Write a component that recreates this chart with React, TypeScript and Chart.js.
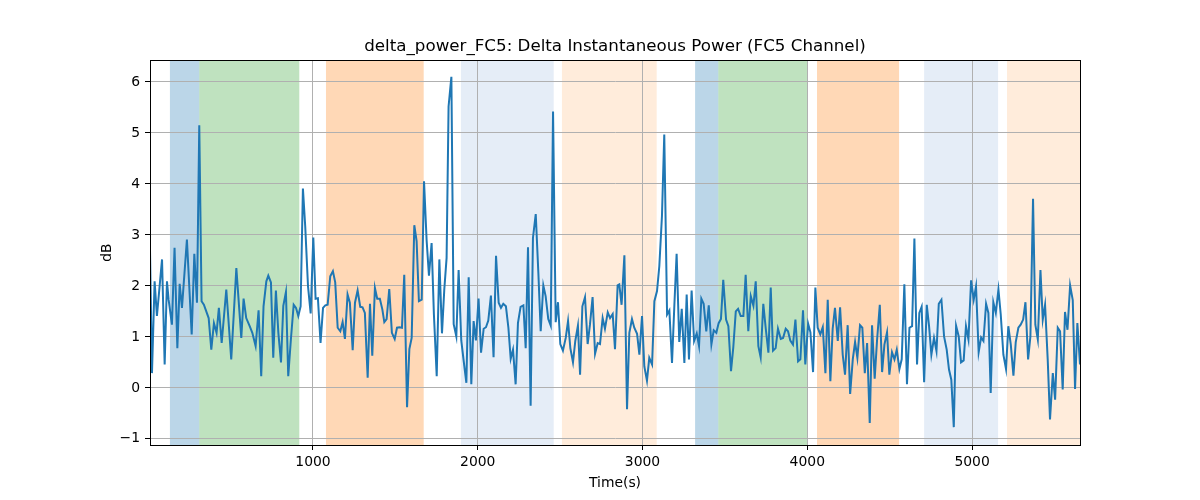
import React, { useEffect, useRef } from "react";
import { Chart, registerables } from "chart.js";

Chart.register(...registerables);

// time stamps (s) of the delta power samples
const times = [
  11, 23, 39, 53, 84, 100, 114, 124, 144, 160, 177, 191, 205, 235, 264, 280, 296, 310, 324, 338,
  367, 383, 399, 415, 429, 446, 474, 504, 535, 565, 579, 595, 616, 632, 652, 670, 686, 700, 717, 729,
  745, 759, 775, 790, 806, 820, 836, 850, 866, 883, 897, 911, 925, 939, 953, 970, 986, 1002, 1016, 1030,
  1046, 1061, 1075, 1089, 1105, 1121, 1135, 1150, 1166, 1180, 1194, 1210, 1224, 1241, 1255, 1271, 1287, 1301, 1315, 1332,
  1346, 1360, 1376, 1390, 1406, 1421, 1433, 1447, 1463, 1479, 1496, 1510, 1526, 1540, 1554, 1571, 1585, 1599, 1615, 1629,
  1643, 1660, 1674, 1690, 1704, 1720, 1734, 1751, 1767, 1783, 1797, 1811, 1823, 1840, 1854, 1870, 1884, 1900, 1915, 1931,
  1945, 1961, 1975, 1989, 2005, 2020, 2036, 2050, 2064, 2080, 2096, 2111, 2127, 2141, 2155, 2171, 2186, 2200, 2214, 2230,
  2244, 2260, 2277, 2291, 2305, 2321, 2335, 2352, 2368, 2382, 2398, 2412, 2428, 2443, 2457, 2473, 2487, 2501, 2517, 2534,
  2548, 2562, 2578, 2592, 2608, 2621, 2635, 2651, 2667, 2681, 2697, 2712, 2728, 2742, 2758, 2772, 2789, 2803, 2819, 2833,
  2849, 2859, 2873, 2890, 2906, 2920, 2936, 2950, 2967, 2981, 2997, 3011, 3027, 3041, 3058, 3072, 3088, 3102, 3118, 3132,
  3149, 3163, 3179, 3193, 3207, 3223, 3238, 3254, 3268, 3282, 3298, 3313, 3329, 3343, 3357, 3371, 3387, 3402, 3418, 3432,
  3448, 3462, 3476, 3490, 3507, 3521, 3537, 3551, 3566, 3580, 3596, 3612, 3626, 3642, 3657, 3673, 3687, 3703, 3717, 3733,
  3748, 3764, 3778, 3792, 3808, 3822, 3839, 3853, 3869, 3883, 3897, 3913, 3928, 3944, 3958, 3974, 3988, 4005, 4019, 4035,
  4049, 4063, 4079, 4094, 4110, 4124, 4140, 4154, 4168, 4185, 4199, 4215, 4229, 4245, 4260, 4276, 4290, 4304, 4320, 4334,
  4349, 4363, 4379, 4393, 4409, 4423, 4440, 4454, 4468, 4484, 4498, 4514, 4529, 4543, 4559, 4573, 4589, 4605, 4620, 4636,
  4650, 4666, 4680, 4694, 4709, 4725, 4739, 4753, 4769, 4784, 4798, 4814, 4830, 4846, 4860, 4874, 4889, 4903, 4919, 4933,
  4949, 4963, 4978, 4994, 5010, 5024, 5040, 5055, 5069, 5085, 5099, 5113, 5129, 5144, 5160, 5174, 5190, 5206, 5220, 5235,
  5251, 5265, 5281, 5295, 5310, 5324, 5340, 5354, 5370, 5384, 5399, 5415, 5429, 5443, 5459, 5473, 5490, 5504, 5520, 5534,
  5550, 5564, 5579, 5595, 5611, 5625, 5639, 5655,
];

// delta power (dB)
const power = [
  2.7, 0.29, 2.09, 1.41, 2.52, 0.46, 2.09, 1.73, 1.24, 2.75, 0.78, 2.04, 1.57, 2.91, 1.05, 2.63, 1.67, 5.15, 1.7, 1.63,
  1.37, 0.75, 1.27, 1.08, 1.57, 0.88, 1.93, 0.56, 2.35, 0.98, 1.75, 1.37, 1.21, 1.08, 0.82, 1.52, 0.23, 1.6, 2.09, 2.2,
  2.07, 0.59, 1.91, 1.08, 0.5, 1.61, 1.88, 0.23, 0.95, 1.63, 1.57, 1.41, 1.6, 3.91, 3.17, 1.99, 1.46, 2.95, 1.75, 1.76,
  0.88, 1.57, 1.62, 1.63, 2.19, 2.29, 2.07, 1.18, 1.11, 1.29, 0.96, 1.83, 1.67, 0.74, 1.67, 1.91, 1.59, 1.58, 1.47, 0.2,
  1.65, 0.63, 1.96, 1.75, 1.75, 1.54, 1.29, 1.35, 1.94, 1.08, 0.96, 1.18, 1.19, 1.18, 2.22, -0.38, 0.76, 0.98, 3.19, 2.88,
  1.7, 1.73, 4.05, 2.88, 2.2, 2.84, 1.44, 0.23, 2.52, 1.07, 1.93, 2.55, 5.52, 6.1, 1.25, 1.01, 2.31, 0.93, 0.52, 0.1,
  2.17, 0.07, 1.31, 0.93, 1.75, 0.69, 1.16, 1.19, 1.32, 1.81, 0.6, 2.59, 1.67, 1.57, 1.65, 1.6, 1.18, 0.57, 0.75, 0.07,
  1.27, 1.59, 1.62, 0.78, 2.76, -0.35, 2.94, 3.41, 2.25, 1.11, 2.01, 1.8, 1.35, 1.22, 5.42, 1.29, 1.68, 0.86, 0.73, 0.98,
  1.31, 0.78, 0.5, 0.92, 1.22, 0.26, 1.6, 1.78, 0.86, 1.24, 1.78, 0.67, 0.88, 0.86, 1.37, 1.16, 1.48, 1.37, 1.45, 0.76,
  2.01, 2.03, 1.63, 2.6, -0.42, 1.08, 1.35, 1.18, 1.06, 0.65, 1.41, 0.42, 0.14, 0.59, 0.46, 1.7, 1.9, 2.39, 3.37, 4.97,
  1.44, 1.52, 0.49, 1.6, 2.63, 0.9, 1.55, 0.49, 1.83, 0.56, 1.91, 0.92, 1.07, 0.82, 1.75, 1.65, 1.11, 1.62, 0.85, 1.13,
  1.08, 1.27, 1.35, 2.12, 1.34, 1.21, 0.33, 0.8, 1.5, 1.55, 1.41, 1.41, 2.22, 1.11, 1.8, 1.61, 2.09, 0.82, 0.6, 1.65,
  1.16, 0.69, 1.97, 0.73, 0.78, 1.16, 0.96, 0.98, 1.16, 1.11, 0.93, 0.85, 1.34, 0.52, 0.56, 1.52, 0.46, 1.26, 1.09, 0.31,
  1.97, 1.18, 1.05, 1.19, 0.29, 1.73, 0.13, 1.16, 1.57, 0.92, 1.58, 0.65, 0.26, 1.23, -0.12, 0.56, 0.9, 0.59, 1.23, 1.18,
  0.29, 0.88, -0.69, 1.23, 0.18, 0.92, 1.63, 0.31, 0.85, 1.09, 0.26, 0.7, 0.56, 0.75, 0.37, 0.56, 2.03, 0.07, 1.18, 1.21,
  2.93, 0.46, 1.47, 1.59, 0.11, 1.63, 1.21, 0.65, 0.98, 0.72, 1.65, 1.73, 1.01, 0.75, 0.36, 0.16, -0.77, 1.22, 1.01, 0.5,
  0.54, 1.21, 0.95, 2.11, 1.73, 1.99, 0.7, 0.99, 0.92, 1.65, 1.47, -0.1, 1.68, 1.47, 1.93, 1.44, 0.65, 0.37, 1.21, 0.85,
  0.24, 0.9, 1.18, 1.24, 1.34, 1.68, 0.56, 1.01, 3.71, 1.24, 0.95, 2.31, 1.34, 1.63, 0.56, -0.62, 0.29, -0.23, 1.18, 1.11,
  -0.03, 1.49, 1.14, 2.01, 1.72, -0.02, 1.27, 0.46,
];

// shaded task windows
const spanStarts = [132, 310, 1079, 1898, 2511, 3319, 3460, 4059, 4709, 5212];
const spanEnds = [310, 917, 1672, 2461, 3086, 3460, 3999, 4557, 5158, 5655];
const spanKinds = ["blue", "green", "orange", "pale", "peach", "blue", "green", "orange", "pale", "peach"];

const xTicks = [1000, 2000, 3000, 4000, 5000];
const yTicks = [-1, 0, 1, 2, 3, 4, 5, 6];

const SPAN_FILL: Record<string, string> = {
  blue: "rgba(31, 119, 180, 0.3)",
  green: "rgba(44, 160, 44, 0.3)",
  orange: "rgba(255, 127, 14, 0.3)",
  pale: "rgba(70, 130, 200, 0.14)",
  peach: "rgba(255, 127, 14, 0.15)",
};

// matplotlib style minus sign, no thousands separator
const fmt = (v: number) => String(v).replace("-", "\u2212");

const spanPlugin = {
  id: "spans",
  beforeDraw(chart: any) {
    const { ctx, chartArea, scales } = chart;
    ctx.save();
    ctx.beginPath();
    ctx.rect(chartArea.left, chartArea.top, chartArea.right - chartArea.left, chartArea.bottom - chartArea.top);
    ctx.clip();
    spanStarts.forEach((s, i) => {
      const x0 = scales.x.getPixelForValue(s);
      const x1 = scales.x.getPixelForValue(spanEnds[i]);
      ctx.fillStyle = SPAN_FILL[spanKinds[i]];
      ctx.fillRect(x0, chartArea.top, x1 - x0, chartArea.bottom - chartArea.top);
    });
    ctx.restore();
  },
  afterDraw(chart: any) {
    const { ctx, chartArea } = chart;
    ctx.save();
    ctx.strokeStyle = "black";
    ctx.lineWidth = 1;
    ctx.strokeRect(
      Math.round(chartArea.left) + 0.5,
      Math.round(chartArea.top) + 0.5,
      Math.round(chartArea.right - chartArea.left),
      Math.round(chartArea.bottom - chartArea.top)
    );
    ctx.restore();
  },
};

export default function App() {
  const canvasRef = useRef<HTMLCanvasElement>(null);

  useEffect(() => {
    if (!canvasRef.current) return;
    Chart.defaults.font.family = "'DejaVu Sans', sans-serif";
    Chart.defaults.color = "black";

    const chart = new Chart(canvasRef.current, {
      type: "line",
      data: {
        datasets: [
          {
            label: "delta_power_FC5",
            data: times.map((t, i) => ({ x: t, y: power[i] })),
            borderColor: "#1f77b4",
            borderWidth: 2,
            pointRadius: 0,
            tension: 0,
          },
        ],
      },
      options: {
        animation: false,
        responsive: false,
        layout: { padding: { top: 37, left: 95, right: 120, bottom: 0 } },
        plugins: {
          legend: { display: false },
          tooltip: { enabled: false },
          title: {
            display: true,
            fullSize: false,
            text: "delta_power_FC5: Delta Instantaneous Power (FC5 Channel)",
            color: "black",
            font: { size: 16.7, weight: "normal" },
            padding: { top: 0, bottom: 3 },
          },
        },
        scales: {
          x: {
            type: "linear",
            min: 11,
            max: 5655,
            afterBuildTicks: (s: any) => {
              s.ticks = xTicks.map((v) => ({ value: v }));
            },
            afterFit: (s: any) => {
              s.height = 55;
            },
            grid: { color: "#b0b0b0", lineWidth: 1, tickLength: 5, tickColor: "black" },
            border: { color: "black", width: 1 },
            ticks: { color: "black", font: { size: 13.9 }, padding: 4, maxRotation: 0, callback: (v: any) => fmt(v) },
            title: {
              display: true,
              text: "Time(s)",
              color: "black",
              font: { size: 13.9 },
              padding: { top: 2, bottom: 8 },
            },
          },
          y: {
            min: -1.12,
            max: 6.43,
            afterBuildTicks: (s: any) => {
              s.ticks = yTicks.map((v) => ({ value: v }));
            },
            afterFit: (s: any) => {
              s.width = 55;
            },
            grid: { color: "#b0b0b0", lineWidth: 1, tickLength: 5, tickColor: "black" },
            border: { color: "black", width: 1 },
            ticks: { color: "black", font: { size: 13.9 }, padding: 5, callback: (v: any) => fmt(v) },
            title: {
              display: true,
              text: "dB",
              color: "black",
              font: { size: 13.9 },
              padding: { top: 4, bottom: 4 },
            },
          },
        },
      },
      plugins: [spanPlugin],
    });

    return () => chart.destroy();
  }, []);

  return (
    <div style={{ position: "absolute", left: 0, top: 0, width: 1200, height: 500, background: "white" }}>
      <canvas ref={canvasRef} width={1200} height={500} style={{ display: "block" }} />
    </div>
  );
}
